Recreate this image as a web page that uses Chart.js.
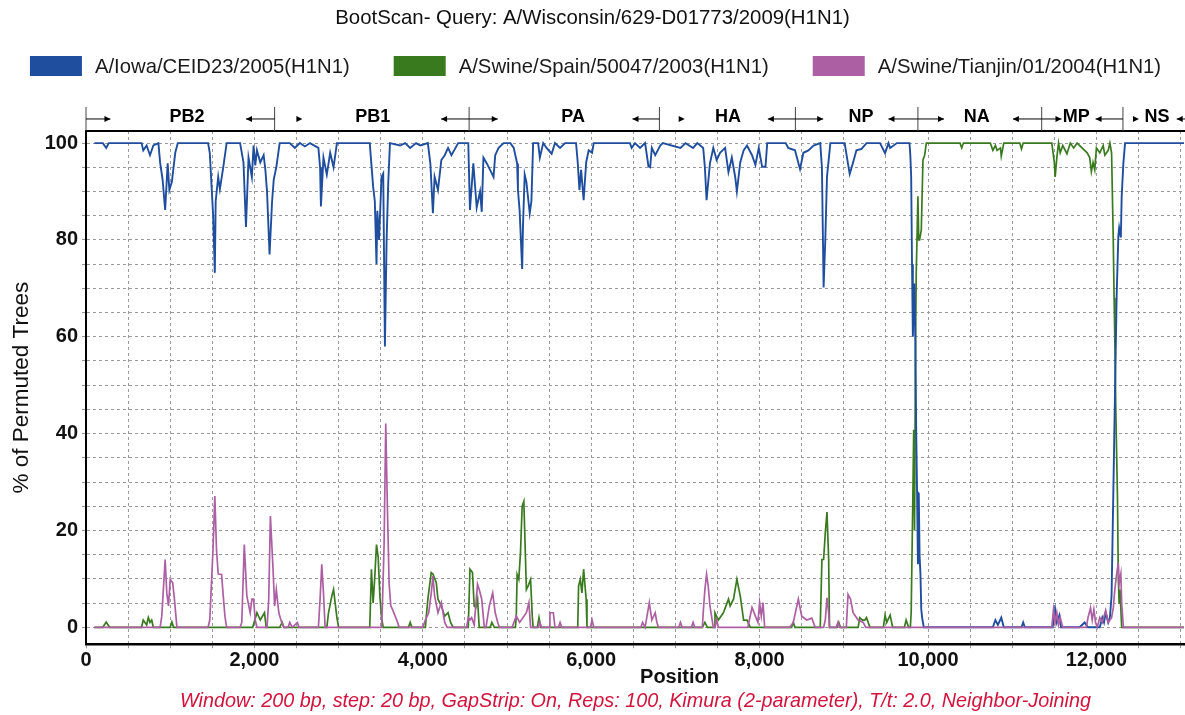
<!DOCTYPE html>
<html>
<head>
<meta charset="utf-8">
<title>BootScan</title>
<script src="https://cdn.jsdelivr.net/npm/chart.js@4.4.1/dist/chart.umd.min.js"></script>
<style>
  html, body { margin: 0; padding: 0; background: #fff; }
</style>
</head>
<body>
<canvas id="myChart" width="1185" height="715"></canvas>
<script>
// series names
var seriesNames = ["A/Iowa/CEID23/2005(H1N1)", "A/Swine/Spain/50047/2003(H1N1)", "A/Swine/Tianjin/01/2004(H1N1)"];
var seriesColors = ["#1f4e9f", "#3a7a1f", "#ad5fa4"];

// blue - A/Iowa
var blueX = [100,200,240,270,660,680,720,760,800,860,880,910,940,970,990,1020,1060,1090,1450,1470,1510,1530,1540,1570,1590,1630,1670,1830,1870,1900,1930,1970,1990,2010,2030,2070,2110,2130,2150,2180,2210,2230,2260,2300,2420,2480,2540,2600,2660,2760,2780,2790,2820,2860,2900,2940,2980,3370,3410,3430,3450,3460,3480,3510,3530,3550,3570,3590,3610,3730,3790,3850,3920,3970,4060,4090,4120,4140,4180,4220,4260,4300,4340,4420,4540,4560,4600,4640,4680,4700,4720,4760,4800,4840,4860,4900,4960,5040,5080,5120,5130,5150,5180,5190,5210,5230,5270,5290,5310,5370,5390,5430,5470,5530,5570,5630,5690,5820,5840,5860,5880,5910,5940,5970,6010,6030,6460,6480,6520,6580,6640,6680,6700,6720,6760,6820,6850,7060,7120,7210,7260,7330,7350,7370,7410,7450,7490,7530,7590,7630,7670,7710,7730,7770,7810,7850,7910,7950,7990,8030,8070,8090,8310,8340,8420,8480,8520,8580,8640,8720,8740,8760,8780,8800,8840,9010,9050,9070,9110,9150,9210,9270,9430,9490,9530,9550,9630,9780,9790,9800,9810,9820,9840,9850,9860,9870,9880,9890,9900,9910,9920,9930,9950,10770,10800,10830,10870,10900,11110,11130,11150,11480,11510,11530,11560,11580,11800,11860,11900,12040,12070,12090,12110,12140,12160,12180,12200,12220,12240,12260,12270,12290,12300,12320,12340,13040];
var blueY = [100,100,99,100,100,98.5,99.5,97.5,99.5,100,96,92.4,86.2,95.8,90.3,92,98,100,100,98,85,73.2,88,93,90.5,95,100,100,96,82.7,97,93,99.5,95.4,98.5,96,97.5,94.5,90,77,88,92.5,95,100,100,99,100,99.3,100,99,95,86.9,97,93.5,98,95,100,100,91,88,75,86,80,93,93.7,58,80,92,100,99.5,100,99,100,99.5,100,95.7,85.5,93,90.3,96.5,97.5,99,97.5,100,100,86.2,95.8,86.7,90,85.8,97,95.8,94.4,93,97.5,99,100,100,99,95.8,90.3,86,74,83,93.5,92,85.5,88,100,100,97,100,99,97.8,100,99,100,100,96,90.3,94.5,88.2,96,98.5,98,100,100,99,100,99,100,95.2,95,99,97.5,99.5,100,99,100,99,100,99,95,88.2,95.8,99,96.5,98,99,94,97,93,90,96,98.5,99.5,97.5,95.5,99,95.1,95.1,100,100,99,98.5,94.6,98,98.5,99.5,100,95,70.2,80,93,100,100,95.7,93.6,96,98.5,98.8,100,100,97.9,100,99,100,100,97.5,93,75,60,71,59,40,28,13,27.8,14.7,11,3.7,2,0,0,1.5,0.5,2,0,0,1,0,0,3.7,1,2.5,0,0,1,0,0,2,1,3,1,2,6.5,27,47.7,68.3,80.7,82.5,80.5,89,95.8,100,100];

// green - A/Swine/Spain
var greenX = [100,200,240,280,660,680,720,740,760,780,800,1000,1020,1040,1980,2030,2070,2120,2140,2300,2330,2350,2860,2880,2920,2940,2980,3000,3370,3390,3410,3430,3450,3470,3490,3510,3530,3830,3850,3870,4030,4060,4100,4120,4160,4180,4220,4260,4300,4330,4360,4540,4560,4590,4610,4630,4650,4670,4800,4820,4850,5100,5110,5120,5140,5160,5180,5200,5230,5250,5280,5300,5310,5360,5380,5400,5840,5850,5870,5890,5910,5940,5950,7320,7350,7380,7460,7470,7510,7570,7630,7650,7690,7730,7770,7810,7850,7890,8380,8400,8420,8720,8740,8760,8780,8800,8820,8830,8920,8940,8960,9170,9190,9220,9250,9270,9310,9470,9490,9510,9550,9580,9720,9740,9770,9790,9800,9820,9830,9840,9850,9860,9880,9890,9900,9920,9940,9960,9980,10380,10400,10420,10740,10770,10800,10820,10860,10870,10900,11090,11110,11130,11470,11500,11510,11530,11550,11570,11600,11650,11690,11730,11770,11890,11920,11940,11960,11980,12000,12040,12080,12100,12140,12160,12180,12190,12200,12210,12220,12230,12250,12260,12270,12280,12300,13040];
var greenY = [0,0,1.1,0,0,1.5,0.5,2,1,1.5,0,0,1.1,0,0,3,1.5,3,0,0,1,0,0,3,6.5,7.8,2,0,0,12,5,10.5,17.1,14.5,6.5,2,0,0,1,0,0,5.8,11.3,11,9.2,5.8,4.4,2.3,3,1,0,0,12,11.3,4.4,4.1,5.8,0,0,1,0,0,2.3,10.9,9.9,15.4,25,26,7.8,8.5,9.9,2.3,0,0,2,0,0,8.5,9.9,7.1,12,5.8,0,0,1,0,0,3,1.5,3,5.8,4.4,5.8,9.9,6.5,1.5,1.5,0,0,1,0,0,14,14,19.5,23.8,14,0,0,1,0,0,2,1.5,1.5,2,0,0,2.5,1,2.5,0,0,1.5,0,0,3,27,40.8,20,55,73,89,80,80,82,96.5,97.5,100,100,99,100,100,98.5,99.5,98.5,99,97.3,100,100,98.8,100,100,96,93,97,100,98,99.5,97.8,100,99,100,98,97,94.1,96,94.5,99,98,99.5,97.5,98.5,100,98,89,80,68,58,45,27,10,5,7.8,0,0];

// pink - A/Swine/Tianjin
var pinkX = [100,880,900,940,960,980,1000,1030,1050,1080,1450,1470,1510,1530,1550,1570,1610,1630,1650,1670,1830,1850,1880,1910,1950,1970,1990,2010,2030,2150,2170,2190,2220,2240,2260,2290,2320,2350,2400,2420,2450,2510,2530,2760,2780,2800,2820,2840,3510,3520,3540,3560,3580,3600,3620,3640,3690,3720,4000,4030,4070,4100,4120,4140,4180,4220,4260,4290,4520,4540,4560,4580,4610,4650,4670,4700,4730,4750,4790,4830,4860,4890,4910,5060,5110,5150,5230,5260,5280,5370,5390,5410,5500,5510,5550,5570,5610,5630,5650,5990,6010,6030,6590,6610,6640,6690,6720,6760,6780,6800,7040,7060,7080,7190,7210,7230,7320,7330,7350,7370,7390,7410,7450,7470,7490,7510,7860,7910,7950,7980,8000,8020,8040,8060,8360,8400,8460,8500,8560,8620,8660,8760,8780,8800,8820,8830,8910,8930,8950,9030,9050,9080,9110,9170,9230,9260,11470,11490,11510,11530,11550,11570,11600,11880,11900,11930,11950,11970,11990,12010,12040,12070,12110,12140,12180,12200,12220,12240,12260,12270,12290,12300,12320,13040];
var pinkY = [0,0,2.3,14,7,4.4,9.9,9.2,5.8,0,0,1.5,16.8,27.1,16,11,10.9,6.5,2.3,0,0,1,17.1,6.5,3,5.8,5.8,1.5,0,0,5.8,23,12.5,4.4,7.8,3,1.2,0,0,1,0,1,0,0,5.8,13,7.1,0,0,4.4,17,42.1,24.3,9,4.4,3.7,1.5,0,0,1.5,3,7,10.6,6.5,3,5.1,1,0,0,2,1.5,2,0.5,8.9,7.8,5.8,0,0,4.4,7.1,3,1,0,0,2.3,1,3,5.1,0,0,1,0,0,3,3,0,0,1,0,0,1.5,0,0,1,0,5.1,1.5,3,1,0,0,1,0,0,1,0,0,3,7.8,10.9,8.5,4.4,0,0,1.5,0,0,4.1,2.3,1,5.1,2.3,5.1,0,0,1,5.8,2.3,1.5,1.9,0,0,1.5,6.1,3,0,0,1,0,0,6.8,5.8,3,1.5,1,0,0,3.7,1,3,0.5,2,0,0,2,4,1.5,3.7,1,0,2,1,3.5,1,2,4,8,11,13.3,9,11,5,0,0];

// genome segments along the query (bp)
var segNames = ["PB2", "PB1", "PA", "HA", "NP", "NA", "MP", "NS"];
var segStart = [0, 2240, 4550, 6810, 8425, 9880, 11350, 12315];
var segEnd = [2240, 4550, 6810, 8425, 9880, 11350, 12315, 13133];
var segLabelAt = [1200, 3405, 5785, 7625, 9205, 10580, 11760, 12720];
var startArrow = [290, 330, 340, 300, 330, 310, 235, 190];
var startLine = [true, false, true, false, true, true, true, false];
var endArrow = [340, 333, 320, 327, 350, 342, 325, 180];

// axes
var xMin = 0, xMax = 13052, xGrid = 500;
var xTickLabels = [0, 2000, 4000, 6000, 8000, 10000, 12000];
var yMin = -3.5, yMax = 102.5, yGrid = 5, yLabelEvery = 20;

var FONT = '"Liberation Sans", Arial, sans-serif';
Chart.defaults.font.family = FONT;
Chart.defaults.color = "#111";

function toPoints(xs, ys) {
  return xs.map(function (x, i) { return {x: x, y: ys[i]}; });
}

function arrowHead(ctx, x, y, dir) {
  ctx.beginPath();
  ctx.moveTo(x, y);
  ctx.lineTo(x - dir * 6, y - 3);
  ctx.lineTo(x - dir * 6, y + 3);
  ctx.closePath();
  ctx.fill();
}

// legend, gene bar, top frame line and the x title
var decorations = {
  id: "decorations",
  afterDraw: function (chart) {
    var ctx = chart.ctx, xs = chart.scales.x, area = chart.chartArea;
    ctx.save();

    // legend
    ctx.font = "20.3px " + FONT;
    ctx.textBaseline = "middle";
    var boxW = 52, boxH = 20, gap = 13, space = 44, ly = 66;
    var widths = seriesNames.map(function (n) { return boxW + gap + ctx.measureText(n).width; });
    var total = widths.reduce(function (a, b) { return a + b; }, 0) + space * (widths.length - 1);
    var lx = (chart.width - total) / 2 + 3;
    seriesNames.forEach(function (n, i) {
      ctx.fillStyle = seriesColors[i];
      ctx.fillRect(lx, ly - boxH / 2, boxW, boxH);
      ctx.fillStyle = "#1a1a1a";
      ctx.textAlign = "left";
      ctx.fillText(n, lx + boxW + gap, ly + 1);
      lx += widths[i] + space;
    });

    // x title, set a little right of the axis middle as in the original
    ctx.font = "bold 20px " + FONT;
    ctx.fillStyle = "#111";
    ctx.textAlign = "center";
    ctx.fillText("Position", (area.left + area.right) / 2 + 44, chart.scales.xl.bottom - 12);

    // top frame
    ctx.strokeStyle = "#000";
    ctx.lineWidth = 2;
    ctx.beginPath();
    ctx.moveTo(area.left, area.top);
    ctx.lineTo(area.right, area.top);
    ctx.stroke();

    // gene segments
    var barTop = area.top - 24, ay = area.top - 12;
    ctx.lineWidth = 1;
    ctx.strokeStyle = "#444";
    ctx.fillStyle = "#000";
    ctx.beginPath();
    ctx.moveTo(xs.getPixelForValue(0), barTop);
    ctx.lineTo(xs.getPixelForValue(0), area.top);
    ctx.stroke();
    segNames.forEach(function (name, i) {
      var x0 = xs.getPixelForValue(segStart[i]);
      var x1 = xs.getPixelForValue(segEnd[i]);
      ctx.strokeStyle = "#444";
      ctx.beginPath();
      ctx.moveTo(x1, barTop);
      ctx.lineTo(x1, area.top);
      ctx.stroke();

      ctx.strokeStyle = "#000";
      var sx = xs.getPixelForValue(segStart[i] + startArrow[i]);
      if (startLine[i]) {
        ctx.beginPath();
        ctx.moveTo(x0, ay);
        ctx.lineTo(sx, ay);
        ctx.stroke();
      }
      arrowHead(ctx, sx, ay, 1);
      var ex = xs.getPixelForValue(segEnd[i] - endArrow[i]);
      ctx.beginPath();
      ctx.moveTo(x1, ay);
      ctx.lineTo(ex, ay);
      ctx.stroke();
      arrowHead(ctx, ex, ay, -1);

      ctx.font = "bold 18px " + FONT;
      ctx.textAlign = "center";
      ctx.fillText(name, xs.getPixelForValue(segLabelAt[i]), area.top - 14);
    });
    ctx.restore();
  }
};

new Chart("myChart", {
  type: "line",
  data: {
    datasets: [
      {label: seriesNames[0], data: toPoints(blueX, blueY), borderColor: seriesColors[0], backgroundColor: seriesColors[0], borderWidth: 1.9, pointRadius: 0, order: 1},
      {label: seriesNames[1], data: toPoints(greenX, greenY), borderColor: seriesColors[1], backgroundColor: seriesColors[1], borderWidth: 1.7, pointRadius: 0, order: 2},
      {label: seriesNames[2], data: toPoints(pinkX, pinkY), borderColor: seriesColors[2], backgroundColor: seriesColors[2], borderWidth: 1.7, pointRadius: 0, order: 0}
    ]
  },
  options: {
    responsive: false,
    animation: false,
    layout: {padding: 0},
    plugins: {
      legend: {display: false},
      tooltip: {enabled: false},
      title: {
        display: true,
        text: "BootScan- Query: A/Wisconsin/629-D01773/2009(H1N1)",
        color: "#111",
        font: {size: 20.4, weight: "normal"},
        padding: {top: 6, bottom: 100.5}
      },
      subtitle: {
        display: true,
        position: "bottom",
        fullSize: false,
        text: "Window: 200 bp, step: 20 bp, GapStrip: On, Reps: 100, Kimura (2-parameter), T/t: 2.0, Neighbor-Joining",
        color: "#d2143c",
        font: {size: 19.8, style: "italic"},
        padding: {top: 0, bottom: 2}
      }
    },
    scales: {
      // grid every 500 bp
      x: {
        type: "linear",
        min: xMin,
        max: xMax,
        weight: 0,
        afterBuildTicks: function (axis) {
          var t = [];
          for (var v = xMin; v <= xMax; v += xGrid) t.push({value: v});
          axis.ticks = t;
        },
        afterFit: function (axis) { axis.height = 4; },
        border: {display: true, color: "#000", width: 2.5, dash: [3, 3]},
        grid: {color: "#9a9a9a", lineWidth: 1, tickLength: 4},
        ticks: {display: false, autoSkip: false}
      },
      // labels every 2,000 bp
      xl: {
        type: "linear",
        position: "bottom",
        min: xMin,
        max: xMax,
        weight: 1,
        afterBuildTicks: function (axis) {
          axis.ticks = xTickLabels.map(function (v) { return {value: v}; });
        },
        afterFit: function (axis) { axis.height = 41; },
        border: {display: false},
        grid: {display: false, drawTicks: false},
        ticks: {
          autoSkip: false,
          maxRotation: 0,
          minRotation: 0,
          padding: 0,
          color: "#111",
          font: {size: 20, weight: "bold"},
          callback: function (v) { return v.toLocaleString("en-US"); }
        }
      },
      y: {
        min: yMin,
        max: yMax,
        afterFit: function (axis) { axis.width = 86; },
        border: {display: true, color: "#000", width: 2, dash: [3, 3]},
        grid: {color: "#9a9a9a", lineWidth: 1, tickLength: 4},
        ticks: {
          stepSize: yGrid,
          autoSkip: false,
          includeBounds: false,
          padding: 4,
          color: "#111",
          font: {size: 20, weight: "bold"},
          callback: function (v) { return v % yLabelEvery === 0 ? v : ""; }
        },
        title: {display: true, text: "% of Permuted Trees", color: "#111", font: {size: 22.5}, padding: {top: 8, bottom: 0}}
      }
    }
  },
  plugins: [decorations]
});
</script>
</body>
</html>
